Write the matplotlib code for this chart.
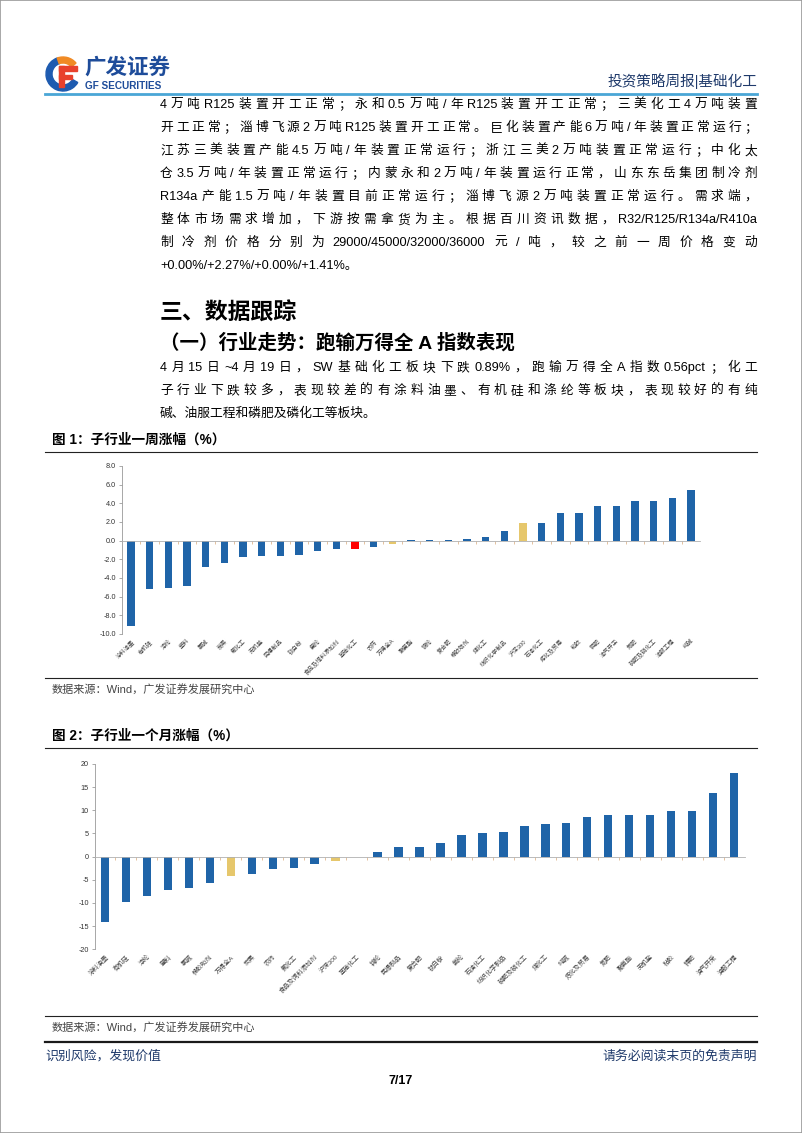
import numpy as np
import matplotlib.pyplot as plt
from matplotlib.patches import Wedge, Rectangle
from matplotlib.lines import Line2D

plt.rcParams['font.family'] = ['Liberation Sans', 'Noto Sans CJK SC']
plt.rcParams['axes.unicode_minus'] = False

W, H = 802, 1133

# 图1：子行业一周涨幅（%）
week_cats = ['涂料油墨', '有机硅', '涤纶', '塑料', '氯碱', '炭黑', '氟化工', '无机盐',
             '民爆制品', '钛白粉', '氨纶', '食品及饲料添加剂', '基础化工', '农药', '万得全A',
             '聚氨酯', '锦纶', '复合肥', '橡胶助剂', '煤化工', '纺织化学制品', '沪深300',
             '石油化工', '炼化及贸易', '粘胶', '钾肥', '油气开采', '氮肥', '磷肥及磷化工',
             '油服工程', '纯碱']
week_vals = [-9.14, -5.16, -5.02, -4.91, -2.87, -2.37, -1.79, -1.68, -1.65, -1.54, -1.15,
             -0.90, -0.89, -0.65, -0.33, 0.03, 0.05, 0.07, 0.14, 0.36, 1.00, 1.86, 1.94,
             2.97, 2.98, 3.73, 3.76, 4.23, 4.27, 4.59, 5.48]
week_ticks = [-10, -8, -6, -4, -2, 0, 2, 4, 6, 8]

# 图2：子行业一个月涨幅（%）
month_cats = ['涂料油墨', '有机硅', '涤纶', '塑料', '氯碱', '橡胶助剂', '万得全A', '炭黑',
              '农药', '氟化工', '食品及饲料添加剂', '沪深300', '基础化工', '锦纶', '民爆制品',
              '复合肥', '钛白粉', '氨纶', '石油化工', '纺织化学制品', '磷肥及磷化工', '煤化工',
              '纯碱', '炼化及贸易', '氮肥', '聚氨酯', '无机盐', '粘胶', '钾肥', '油气开采',
              '油服工程']
month_vals = [-14.2, -9.7, -8.5, -7.3, -6.7, -5.7, -4.2, -3.8, -2.6, -2.4, -1.6, -1.0,
              -0.15, 1.0, 2.0, 2.1, 2.9, 4.7, 5.2, 5.3, 6.7, 7.0, 7.3, 8.5, 8.9, 8.9, 9.0,
              9.8, 9.9, 13.8, 18.1]
month_ticks = [-20, -15, -10, -5, 0, 5, 10, 15, 20]

para1 = ['4万吨R125装置开工正常；永和0.5万吨/年R125装置开工正常；三美化工4万吨装置',
         '开工正常；淄博飞源2万吨R125装置开工正常。巨化装置产能6万吨/年装置正常运行；',
         '江苏三美装置产能4.5万吨/年装置正常运行；浙江三美2万吨装置正常运行；中化太',
         '仓3.5万吨/年装置正常运行；内蒙永和2万吨/年装置运行正常，山东东岳集团制冷剂',
         'R134a产能1.5万吨/年装置目前正常运行；淄博飞源2万吨装置正常运行。需求端，',
         '整体市场需求增加，下游按需拿货为主。根据百川资讯数据，R32/R125/R134a/R410a',
         '制冷剂价格分别为29000/45000/32000/36000元/吨，较之前一周价格变动',
         '+0.00%/+2.27%/+0.00%/+1.41%。']
para2 = ['4月15日~4月19日，SW基础化工板块下跌0.89%，跑输万得全A指数0.56pct；化工',
         '子行业下跌较多，表现较差的有涂料油墨、有机硅和涤纶等板块，表现较好的有纯',
         '碱、油服工程和磷肥及磷化工等板块。']

BLUE = '#1f64a8'
GOLD = '#e6c76c'
RED = '#ff0000'
NAVY = '#1f3a6b'

fig = plt.figure(figsize=(W / 100, H / 100), dpi=100)
renderer = fig.canvas.get_renderer()


def fx(x):
    return x / W


def fy(y):
    return 1 - y / H


def put(x, y, s, **kw):
    kw.setdefault('va', 'center')
    return fig.text(fx(x), fy(y), s, **kw)


def hline(y, x0=45, x1=757, color='#222222', lw=0.8):
    fig.add_artist(Line2D([fx(x0), fx(x1)], [fy(y), fy(y)], color=color, lw=lw))


def tokens(line):
    out, buf = [], ''
    for ch in line:
        if ord(ch) < 128:
            buf += ch
        else:
            if buf:
                out.append(buf)
                buf = ''
            out.append(ch)
    if buf:
        out.append(buf)
    return out


def body_line(y, line, justify=True, x0=160, x1=757, size=9.2):
    if not justify:
        put(x0, y, line, fontsize=size)
        return
    toks = tokens(line)
    arts = [put(x0, y, t, fontsize=size) for t in toks]
    widths = [a.get_window_extent(renderer).width for a in arts]
    gap = (x1 - x0 - sum(widths)) / (len(toks) - 1)
    x = x0
    for a, w in zip(arts, widths):
        a.set_x(fx(x))
        x += w + gap


def bar_panel(rect, cats, vals, ticks, fmt, lab_size):
    ax = fig.add_axes(rect)
    x = np.arange(len(cats))
    colors = [RED if c == '基础化工' else GOLD if c in ('万得全A', '沪深300') else BLUE
              for c in cats]
    ax.bar(x, vals, width=0.4, color=colors, zorder=3)
    ax.set_xlim(-0.5, len(cats) - 0.5)
    ax.set_ylim(ticks[0], ticks[-1])
    ax.set_yticks(ticks)
    ax.set_yticklabels([fmt.format(v) for v in ticks])
    ax.tick_params(axis='y', labelsize=5.2, labelcolor='#333333', length=2,
                   width=0.5, color='#888888', pad=2)
    for s in ('top', 'right'):
        ax.spines[s].set_visible(False)
    ax.spines['left'].set_color('#999999')
    ax.spines['left'].set_linewidth(0.6)
    ax.spines['bottom'].set_position(('data', 0))
    ax.spines['bottom'].set_color('#b0b0b0')
    ax.spines['bottom'].set_linewidth(0.6)
    ax.spines['bottom'].set_zorder(4)
    ax.set_xticks(x)
    ax.set_xticks(x[:-1] + 0.5, minor=True)
    ax.tick_params(axis='x', which='major', length=0, labelbottom=False)
    ax.tick_params(axis='x', which='minor', length=2, width=0.5, color='#d9a877')
    sec = ax.secondary_xaxis('bottom')
    sec.set_xticks(x)
    sec.set_xticklabels(cats, rotation=45, ha='right', rotation_mode='anchor',
                        fontsize=lab_size, color='#444444')
    sec.tick_params(length=0, pad=3)
    sec.spines['bottom'].set_visible(False)
    return ax


# page frame
fig.add_artist(Rectangle((0, 0), 1, 1, transform=fig.transFigure, fill=False,
                         edgecolor='#9a9a9a', lw=1.2))

# logo
lg = fig.add_axes([fx(43), fy(93), 38 / W, 40 / H])
lg.set_xlim(0, 38)
lg.set_ylim(0, 40)
lg.set_aspect('equal')
lg.axis('off')
lg.add_patch(Wedge((20, 19), 17, 110, 330, width=6, color='#1e5bb0'))
lg.add_patch(Wedge((20, 19), 17, 40, 110, width=6, color='#f08a24'))
lg.add_patch(Rectangle((16, 22), 18, 5, color='#e8412c'))
lg.add_patch(Rectangle((16, 6), 5, 21, color='#e8412c'))
lg.add_patch(Rectangle((16, 14), 13, 4.5, color='#e8412c'))
put(84, 68, '广发证券', fontsize=15.5, fontweight='bold', color='#1e4c9a')
put(85, 86, 'GF SECURITIES', fontsize=7.2, fontweight='bold', color='#1e4c9a')

put(757, 81, '投资策略周报|基础化工', fontsize=10.5, ha='right', color=NAVY)
hline(94, 45, 757, color='#4aa6d6', lw=2)

# text block 1
for i, line in enumerate(para1):
    body_line(105 + i * 23, line, justify=(i < len(para1) - 1))

put(160, 313, '三、数据跟踪', fontsize=16.5, fontweight='bold')
put(160, 343, '（一）行业走势：跑输万得全 A 指数表现', fontsize=14, fontweight='bold')
for i, line in enumerate(para2):
    body_line(368 + i * 23, line, justify=(i < len(para2) - 1))

# figure 1
put(52, 440, '图 1：子行业一周涨幅（%）', fontsize=9.8, fontweight='bold')
hline(452)
bar_panel([fx(121.7), fy(634), 578.6 / W, 168 / H], week_cats, week_vals,
          week_ticks, '{:.1f}', 4.2)
hline(678)
put(52, 689, '数据来源：Wind，广发证券发展研究中心', fontsize=8, color='#444444')

# figure 2
put(52, 736, '图 2：子行业一个月涨幅（%）', fontsize=9.8, fontweight='bold')
hline(748)
bar_panel([fx(94.5), fy(949.3), 650 / W, 185.3 / H], month_cats, month_vals,
          month_ticks, '{:d}', 4.6)
hline(1016)
put(52, 1027, '数据来源：Wind，广发证券发展研究中心', fontsize=8, color='#444444')

# footer
hline(1042, 45, 757, color='#1a1a1a', lw=1.6)
put(45, 1056, '识别风险，发现价值', fontsize=9.3, color=NAVY)
put(757, 1056, '请务必阅读末页的免责声明', fontsize=9.3, ha='right', color=NAVY)
put(401, 1081, '7/17', fontsize=9, ha='center', fontweight='bold')

fig.savefig('out.png', dpi=100)
